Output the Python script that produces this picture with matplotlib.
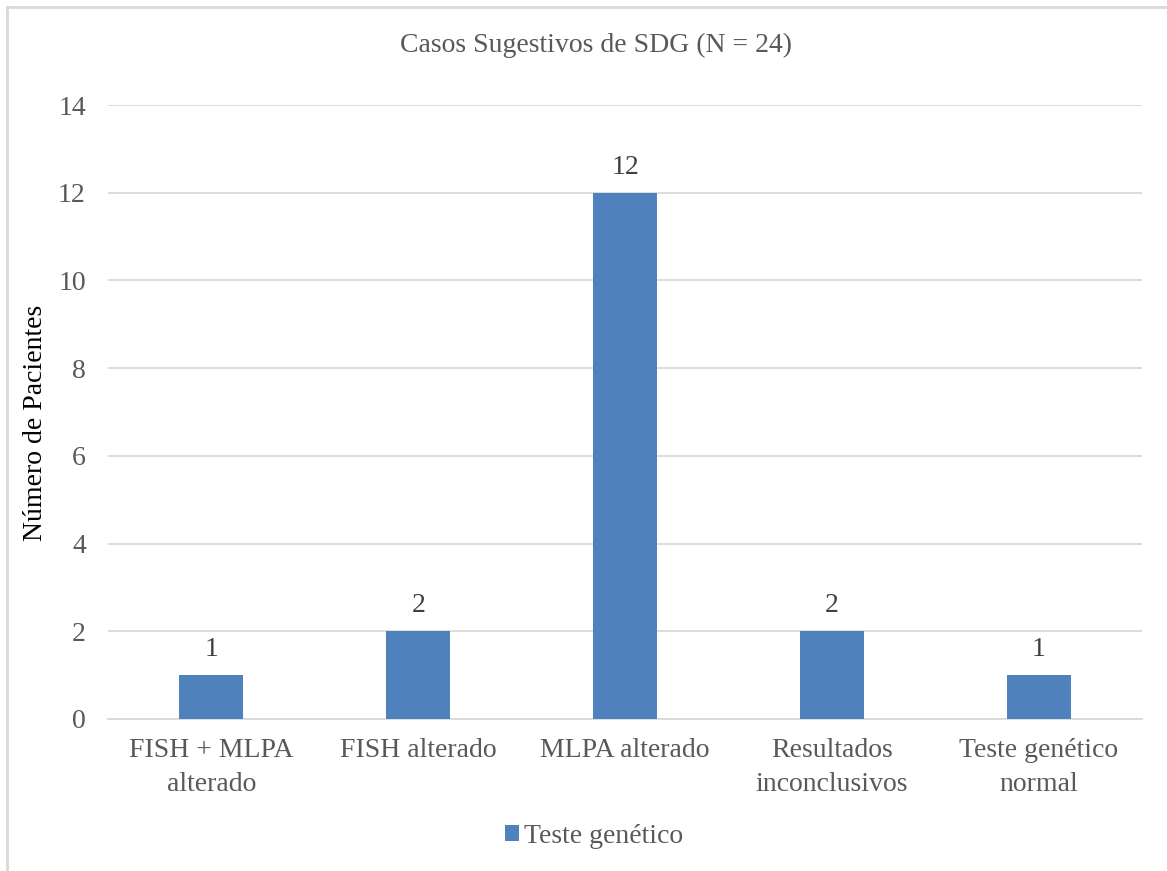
import matplotlib
matplotlib.use("Agg")
import matplotlib.pyplot as plt
import numpy as np

# Dados
categorias = ["FISH + MLPA\nalterado", "FISH alterado", "MLPA alterado",
              "Resultados\ninconclusivos", "Teste genético\nnormal"]
pacientes = [1, 2, 12, 2, 1]
serie = "Teste genético"
titulo = "Casos Sugestivos de SDG (N = 24)"
yticks = [0, 2, 4, 6, 8, 10, 12, 14]

plt.rcParams['font.family'] = 'serif'
plt.rcParams['font.serif'] = ['Liberation Serif', 'DejaVu Serif']

W, H = 1167, 871
fig = plt.figure(figsize=(W / 100, H / 100), dpi=100)
ax = fig.add_axes([108 / W, 1 - 719 / H, (1142 - 108) / W, (719 - 105) / H])

x = np.arange(len(categorias))
bars = ax.bar(x, pacientes, width=0.31, color='#4F81BD', zorder=3, label=serie)
for b, v in zip(bars, pacientes):
    ax.text(b.get_x() + b.get_width() / 2, v + 0.3, str(v), ha='center', va='bottom',
            fontsize=20, color='#404040')

ax.set_xlim(-0.5, len(categorias) - 0.5)
ax.set_ylim(0, 14)
ax.set_yticks(yticks)
ax.set_xticks(x)
ax.set_xticklabels(categorias, fontsize=20, color='#595959', linespacing=1.45)
ax.tick_params(axis='y', labelsize=20, labelcolor='#595959', length=0, pad=16)
ax.tick_params(axis='x', length=0, pad=14)
ax.grid(axis='y', color='#D9D9D9', linewidth=1.3, zorder=0)
for s in ['top', 'right', 'left']:
    ax.spines[s].set_visible(False)
ax.spines['bottom'].set_color('#D9D9D9')
ax.spines['bottom'].set_linewidth(1.3)

ax.set_ylabel("Número de Pacientes", fontsize=20, color='black', va='center')
ax.yaxis.set_label_coords((36 - 108) / (1142 - 108), (719 - 423) / (719 - 105))
fig.text(596 / W, 1 - 45 / H, titulo, ha='center', va='center', fontsize=20, color='#595959')

leg = fig.legend(handles=[bars], labels=[serie], loc='center', bbox_to_anchor=(594 / W, 1 - 836 / H),
                 frameon=False, fontsize=20, handlelength=0.5, handleheight=0.5, handletextpad=0.2)
for t in leg.get_texts():
    t.set_color('#595959')

# moldura do gráfico
fig.add_artist(plt.Line2D([7 / W, 1], [1 - 7 / H, 1 - 7 / H], color='#D9D9D9', lw=2))
fig.add_artist(plt.Line2D([7 / W, 7 / W], [0, 1 - 7 / H], color='#D9D9D9', lw=2))

fig.savefig("out.png", dpi=100)
